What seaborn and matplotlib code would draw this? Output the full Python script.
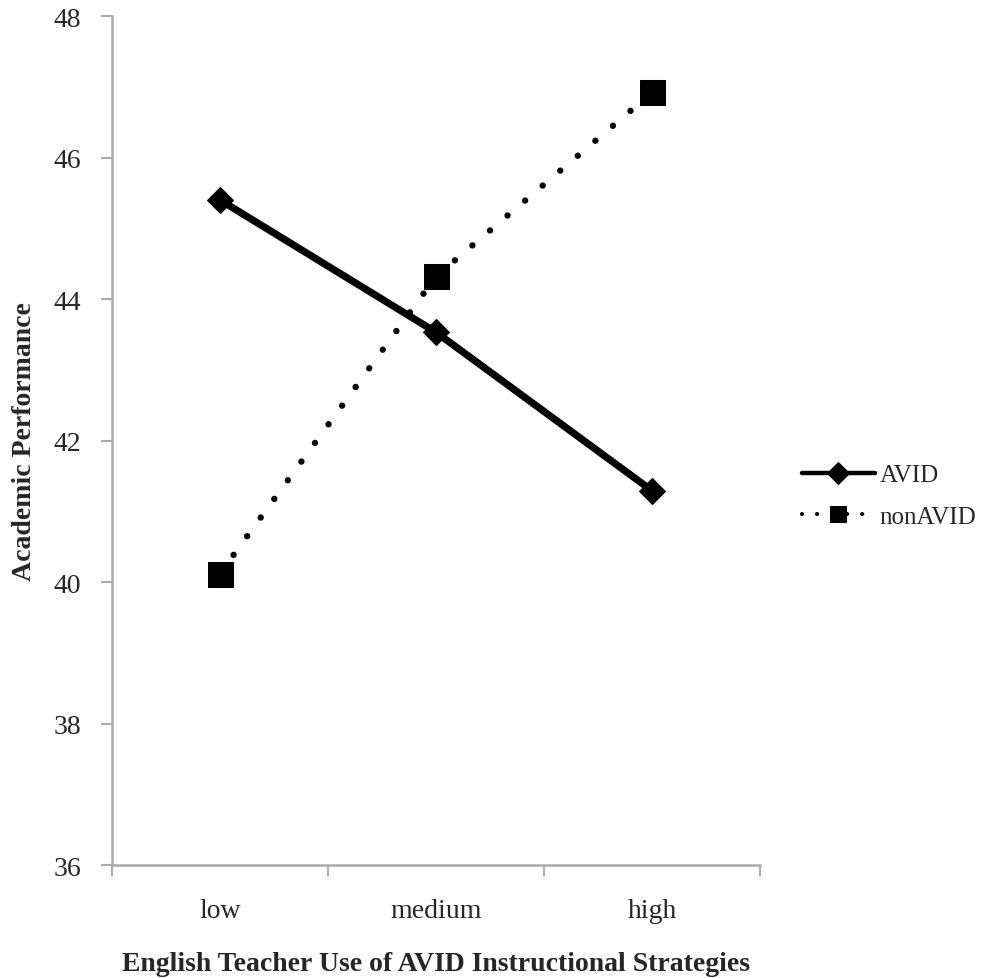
import pandas as pd
import numpy as np
import matplotlib
matplotlib.use('Agg')
import matplotlib.pyplot as plt
import seaborn as sns

# du lieu doc tu hinh
levels = ['low', 'medium', 'high']
avid = [45.4, 43.53, 41.29]
non_avid = [40.12, 44.32, 46.92]
y_ticks = [36, 38, 40, 42, 44, 46, 48]

df = pd.DataFrame({
    'level': levels * 2,
    'x': [0, 1, 2] * 2,
    'score': avid + non_avid,
    'group': ['AVID'] * 3 + ['nonAVID'] * 3,
})

sns.set_style('white')
plt.rcParams['font.family'] = ['Liberation Serif', 'DejaVu Serif']

fig = plt.figure(figsize=(9.85, 9.79), dpi=100)
ax = fig.add_axes([0.1137, 0.1154, 0.658, 0.8672])

sns.lineplot(data=df, x='x', y='score', hue='group', style='group',
             palette={'AVID': 'black', 'nonAVID': 'black'},
             markers={'AVID': 'D', 'nonAVID': 's'},
             dashes={'AVID': '', 'nonAVID': (0.01, 3.6)},
             ax=ax, legend=False)

lines = ax.get_lines()
lines[0].set_linewidth(5.2)
lines[0].set_markersize(13)
lines[1].set_linewidth(4.6)
lines[1].set_markersize(18)
lines[1].set_dash_capstyle('round')
for ln in lines:
    ln.set_markeredgecolor('black')

ax.set_xlim(-0.5, 2.5)
ax.set_ylim(36, 48)
ax.set_yticks(y_ticks)
ax.set_yticklabels([str(v) for v in y_ticks], fontsize=20)
ax.set_xticks([-0.5, 0.5, 1.5, 2.5])
ax.set_xticklabels([])
ax.set_xticks([0, 1, 2], minor=True)
ax.set_xticklabels(levels, minor=True, fontsize=20)
ax.tick_params(axis='x', which='minor', length=0, pad=24)
ax.tick_params(axis='x', which='major', length=8, width=1.5, color='#aaaaaa', direction='out', bottom=True)
ax.tick_params(axis='y', which='major', length=8, width=1.5, color='#aaaaaa', direction='out', left=True, pad=14)

for s in ['top', 'right']:
    ax.spines[s].set_visible(False)
for s in ['left', 'bottom']:
    ax.spines[s].set_color('#aaaaaa')
    ax.spines[s].set_linewidth(1.8)

ax.set_xlabel('English Teacher Use of AVID Instructional Strategies',
              fontsize=20, fontweight='bold', labelpad=20)
ax.set_ylabel('Academic Performance', fontsize=20, fontweight='bold', labelpad=12)

leg = ax.legend(lines, ['AVID', 'nonAVID'], loc='center left',
                bbox_to_anchor=(1.03, 0.435), frameon=False, fontsize=18,
                handlelength=2.9, handletextpad=0.2, labelspacing=0.75)
for h in leg.legend_handles:
    h.set_markersize(11)
leg.legend_handles[0].set_linewidth(3.2)
leg.legend_handles[1].set_linewidth(3.0)

fig.savefig('out.png', dpi=100)
